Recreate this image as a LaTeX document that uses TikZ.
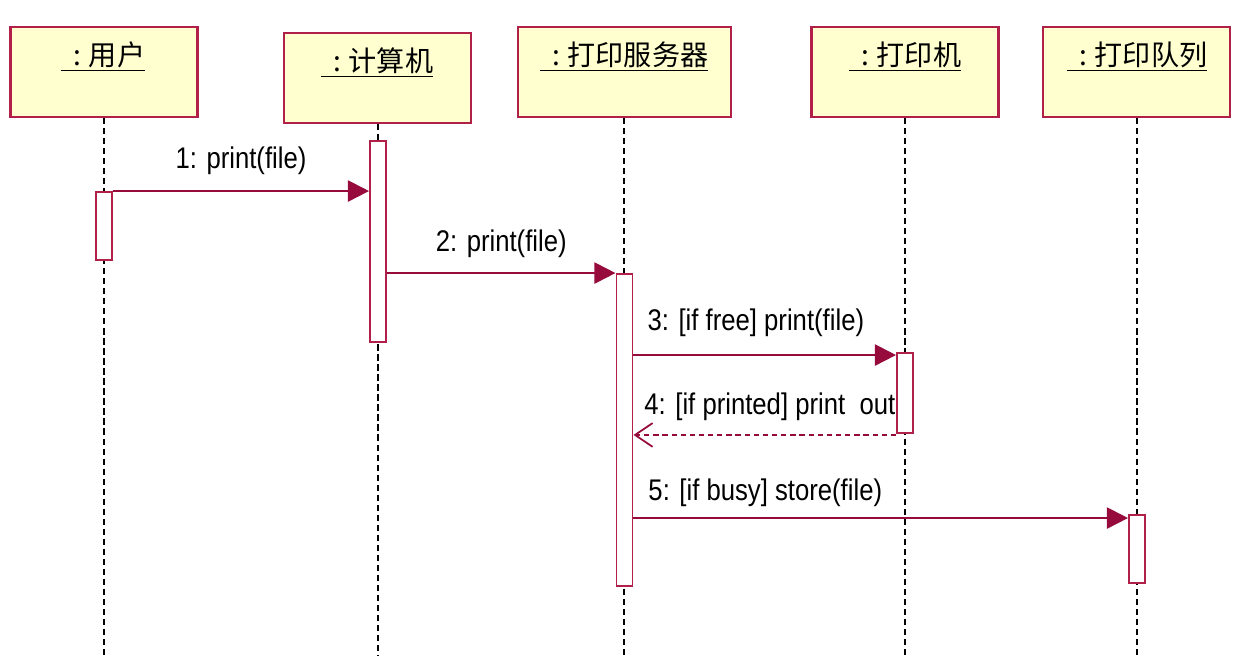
\documentclass[tikz,border=0pt]{standalone}
\usepackage{fontspec}
\setmainfont{Liberation Sans}
\newfontfamily\msgfont[FakeStretch=0.86]{Liberation Sans}
\newfontfamily\cjk{Noto Sans CJK SC}
\usetikzlibrary{arrows.meta,calc,positioning}
\definecolor{BoxClr}{RGB}{176,32,72}
\definecolor{BoxFill}{RGB}{255,255,208}
\definecolor{MsgClr}{RGB}{150,10,60}
\newcommand{\objtitle}[1]{\underline{\hspace{7pt}:\hspace{4.5pt}#1}}

\begin{document}
\begin{tikzpicture}[x=0.02cm,y=-0.02cm,
  objbox/.style={draw=BoxClr,line width=1.2pt,fill=BoxFill,minimum width=3.74cm,minimum height=1.8cm,inner sep=0pt},
  objname/.style={font=\cjk\fontsize{16}{19}\selectfont,inner sep=0pt},
  lifeline/.style={line width=1.2pt,dash pattern=on 3.5pt off 2.2pt},
  actbar/.style={draw=BoxClr,line width=1.1pt,fill=white,minimum width=0.32cm,inner sep=0pt},
  msg/.style={draw=MsgClr,line width=1.1pt,-{Triangle[length=12pt,width=12pt]}},
  reply/.style={draw=MsgClr,line width=1.1pt,dash pattern=on 3pt off 2.2pt,-{Straight Barb[length=10pt,width=13.5pt,line width=1pt]}},
  msglabel/.style={font=\msgfont\fontsize{17}{20}\selectfont,inner sep=0pt}]
\useasboundingbox (0,0) rectangle (1237,665);

% objects
\node[objbox] (user) at (104,72) {};
\node[objbox] (pc) at (377.5,78) {};
\node[objbox,minimum width=4.26cm] (server) at (624.5,72) {};
\node[objbox] (printer) at (905,72) {};
\node[objbox] (queue) at (1136.5,72) {};

\node[objname] (userT) at (103,57) {\objtitle{用户}};
\node[objname] (pcT) at (377,63) {\objtitle{计算机}};
\node[objname] (serverT) at (624,57) {\objtitle{打印服务器}};
\node[objname] (printerT) at (905,57) {\objtitle{打印机}};
\node[objname] (queueT) at (1137,57) {\objtitle{打印队列}};

% lifelines
\coordinate (userEnd) at (104,655);
\coordinate (pcEnd) at (378,655);
\coordinate (serverEnd) at (624,655);
\coordinate (printerEnd) at (905,655);
\coordinate (queueEnd) at (1137,655);
\foreach \o in {user,pc,server,printer,queue}
  \draw[lifeline] (\o.south -| \o End) -- (\o End);

% activations
\node[actbar,minimum height=1.36cm] (uact) at (104,226) {};
\node[actbar,minimum height=4.02cm] (cact) at (378,241.5) {};
\node[actbar,minimum height=6.24cm] (sact) at (624.5,430) {};
\node[actbar,minimum height=1.6cm] (pact) at (905,393) {};
\node[actbar,minimum height=1.36cm] (qact) at (1137,549) {};

% messages
\draw[msg] (uact.north east) -- node[msglabel,above=8.9pt] (m1) {1: print(file)} (uact.north east -| cact.west);
\draw[msg] (sact.north west -| cact.east) -- node[msglabel,above=8.3pt] (m2) {2: print(file)} (sact.north west);
\draw[msg] ($(pact.north west -| sact.east)+(0,3)$) -- ($(pact.north west)+(0,3)$)
  node[msglabel,pos=0,above right=10pt and 7.5pt] (m3) {3: [if free] print(file)};
\draw[reply] ($(pact.south west)+(0,1)$) -- ($(pact.south west -| sact.east)+(0,1)$)
  node[msglabel,pos=1,above right=7.8pt and 5.7pt] (m4) {4: [if printed] print\ \ out};
\draw[msg] ($(qact.north west -| sact.east)+(0,4)$) -- ($(qact.north west)+(0,4)$)
  node[msglabel,pos=0,above right=6pt and 8pt] (m5) {5: [if busy] store(file)};
\end{tikzpicture}
\end{document}
